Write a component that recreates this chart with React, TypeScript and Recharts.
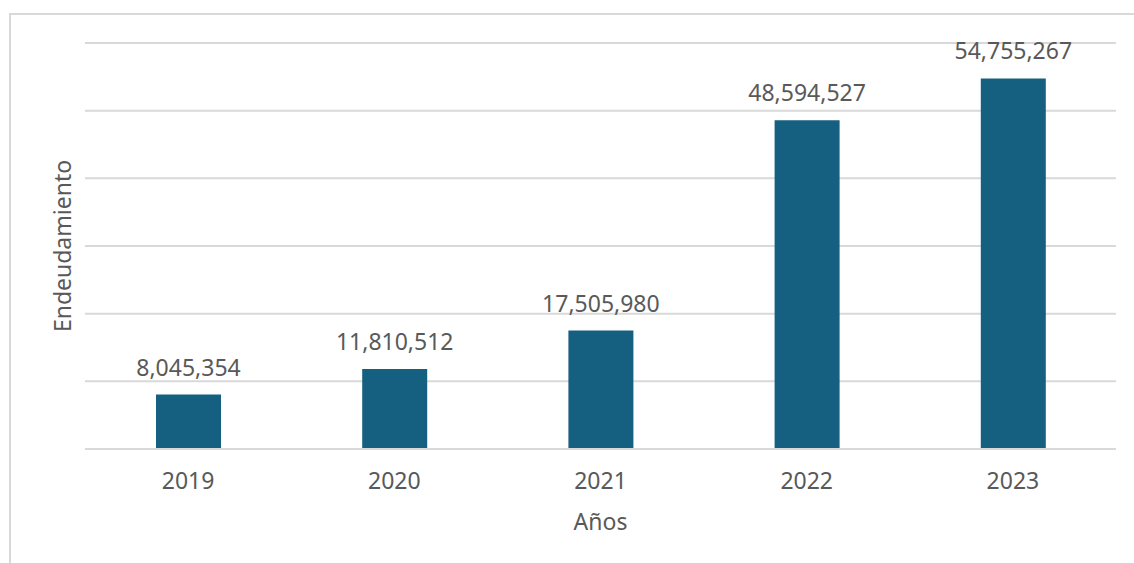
import { BarChart, Bar, XAxis, YAxis, CartesianGrid, LabelList } from 'recharts';

// Endeudamiento por año
const years = ['2019', '2020', '2021', '2022', '2023'];
const debt = [8045354, 11810512, 17505980, 48594527, 54755267];
const yTicks = [0, 10000000, 20000000, 30000000, 40000000, 50000000, 60000000];

const data = years.map((year, i) => ({ year, value: debt[i] }));

const FONT = '"Noto Sans", "Open Sans", sans-serif';
const TEXT = '#595959';
const GRID = '#d9d9d9';
const BAR = '#155f80';

const fmt = (v: number) => v.toLocaleString('en-US');

// eje Y sin etiquetas, pero con ticks para la rejilla
const HiddenTick = () => <g />;

export default function App() {
  return (
    <div
      style={{
        position: 'absolute',
        left: 0,
        top: 0,
        width: 1134,
        height: 563,
        overflow: 'hidden',
        background: '#fff',
        fontFamily: FONT,
      }}
    >
      <div
        style={{
          position: 'absolute',
          left: 9,
          top: 13,
          width: 1140,
          height: 600,
          borderLeft: `2px solid ${GRID}`,
          borderTop: `2px solid ${GRID}`,
        }}
      />
      <div style={{ position: 'absolute', left: 0, top: 0 }}>
        <BarChart
          width={1134}
          height={563}
          data={data}
          margin={{ top: 43, right: 18, bottom: 0, left: 0 }}
          barSize={65}
        >
          <CartesianGrid vertical={false} stroke={GRID} strokeWidth={2} />
          <XAxis
            dataKey="year"
            height={114}
            axisLine={{ stroke: GRID, strokeWidth: 2 }}
            tickLine={false}
            tickMargin={18}
            tick={{ fill: TEXT, fontSize: 23, fontFamily: FONT }}
            label={{
              value: 'Años',
              position: 'insideBottom',
              offset: 33,
              fill: TEXT,
              fontSize: 23,
              fontFamily: FONT,
            }}
          />
          <YAxis
            width={85}
            domain={[0, 60000000]}
            ticks={yTicks}
            interval={0}
            tick={<HiddenTick />}
            axisLine={false}
            tickLine={false}
            label={{
              value: 'Endeudamiento',
              angle: -90,
              position: 'insideLeft',
              offset: 63,
              textAnchor: 'middle',
              fill: TEXT,
              fontSize: 23,
              fontFamily: FONT,
            }}
          />
          <Bar dataKey="value" fill={BAR} isAnimationActive={false}>
            <LabelList
              dataKey="value"
              position="top"
              offset={19}
              formatter={(v: any) => fmt(Number(v))}
              fill={TEXT}
              fontSize={23}
              fontFamily={FONT}
            />
          </Bar>
        </BarChart>
      </div>
    </div>
  );
}
